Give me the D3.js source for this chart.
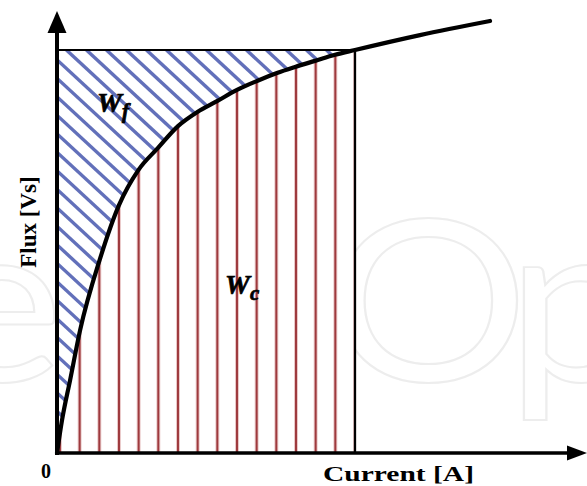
<!DOCTYPE html>
<html>
<head>
<meta charset="utf-8">
<script src="https://cdn.jsdelivr.net/npm/d3@7"></script>
<style>
  html, body { margin: 0; padding: 0; background: #fff; }
  svg { display: block; }
</style>
</head>
<body>
<svg id="chart" width="587" height="486"></svg>
<script>
// Magnetisation curve: flux linkage against current
const current = [0, 0.17, 0.44, 0.77, 1.44, 2.08, 2.73, 3.39, 4.06, 4.71, 5.37, 6.04, 6.71, 7.38, 7.99, 8.66, 9.33, 10, 12.18, 14.53];
const flux    = [0, 0.82, 1.81, 3.03, 4.81, 6.15, 7.02, 7.57, 8.11, 8.46, 8.73, 9.01, 9.23, 9.43, 9.58, 9.73, 9.88, 10, 10.37, 10.72];

// Operating point that bounds the energy / co-energy rectangle
const iOp = 10;
const psiOp = 10;

const axisLabels = { x: "Current [A]", y: "Flux [Vs]", origin: "0" };

const svg = d3.select("#chart");

const x = d3.scaleLinear().domain([0, 10]).range([57, 355]);
const y = d3.scaleLinear().domain([0, 10]).range([453, 50]);

const pts = current.map((c, i) => ({ c, f: flux[i] }));
const inside = pts.filter(p => p.c <= iOp);

const defs = svg.append("defs");
defs.append("filter").attr("id", "soft")
  .attr("x", "-10%").attr("y", "-10%").attr("width", "120%").attr("height", "120%")
  .append("feGaussianBlur").attr("stdDeviation", 0.75);

// Field energy: between the curve and the flux level of the operating point
const areaEnergy = d3.area().curve(d3.curveMonotoneX)
  .x(d => x(d.c)).y0(y(psiOp)).y1(d => y(d.f));
// Co-energy: between the curve and the current axis
const areaCo = d3.area().curve(d3.curveMonotoneX)
  .x(d => x(d.c)).y0(y(0)).y1(d => y(d.f));

defs.append("clipPath").attr("id", "clipWf").append("path").attr("d", areaEnergy(inside));
defs.append("clipPath").attr("id", "clipWc").append("path").attr("d", areaCo(inside));

// faint publisher watermark behind the plot
const wm = svg.append("g").attr("fill", "none").attr("stroke", "#ededed").attr("stroke-width", 2)
  .attr("font-family", "Lato, 'Open Sans', sans-serif").attr("font-size", 226);
wm.append("text").attr("transform", "translate(64,381) scale(1.11,1)").attr("text-anchor", "end").text("e");
wm.append("text").attr("transform", "translate(328,381) scale(1.11,1)")
  .attr("letter-spacing", -18).text("Open");

// plot field is opaque
svg.append("rect").attr("x", x(0)).attr("y", y(psiOp))
  .attr("width", x(iOp) - x(0)).attr("height", y(0) - y(psiOp)).attr("fill", "#fff");

// blue diagonal hatching for W_f
const slope = 0.925;
const gBlue = svg.append("g").attr("clip-path", "url(#clipWf)");
const hatchBlue = d3.range(-24, 16).map(k => 61 + 20 * k);
gBlue.selectAll("line").data(hatchBlue).join("line")
  .attr("x1", d => d).attr("y1", y(psiOp) - 5)
  .attr("x2", d => d + 460).attr("y2", y(psiOp) - 5 + 460 * slope)
  .attr("stroke", "#6270ba").attr("stroke-width", 3.4)
  .attr("filter", "url(#soft)");

// red vertical hatching for W_c
const gRed = svg.append("g").attr("clip-path", "url(#clipWc)");
const hatchRed = d3.range(0, 16).map(k => 0.1 + 0.66 * k);
gRed.selectAll("line.halo").data(hatchRed).join("line").attr("class", "halo")
  .attr("x1", d => x(d)).attr("x2", d => x(d)).attr("y1", y(11)).attr("y2", y(0))
  .attr("stroke", "#eacaca").attr("stroke-width", 4);
gRed.selectAll("line.core").data(hatchRed).join("line").attr("class", "core")
  .attr("x1", d => x(d)).attr("x2", d => x(d)).attr("y1", y(11)).attr("y2", y(0))
  .attr("stroke", "#9e3a3e").attr("stroke-width", 2);

// rectangle edges at the operating point
svg.append("line").attr("x1", x(0)).attr("x2", x(iOp)).attr("y1", y(psiOp)).attr("y2", y(psiOp))
  .attr("stroke", "#000").attr("stroke-width", 2.2);
svg.append("line").attr("x1", x(iOp)).attr("x2", x(iOp)).attr("y1", y(psiOp)).attr("y2", y(0))
  .attr("stroke", "#000").attr("stroke-width", 2.3);

// magnetisation curve
svg.append("path").datum(pts)
  .attr("d", d3.line().curve(d3.curveMonotoneX).x(d => x(d.c)).y(d => y(d.f)))
  .attr("fill", "none").attr("stroke", "#000").attr("stroke-width", 4.2)
  .attr("stroke-linecap", "round");

// axes with arrowheads
const ox = x(0), oy = y(0);
svg.append("line").attr("x1", ox).attr("x2", ox).attr("y1", oy + 2).attr("y2", 30)
  .attr("stroke", "#000").attr("stroke-width", 4);
svg.append("path").attr("d", `M${ox},11 L${ox + 9.5},33 L${ox - 9.5},33 Z`).attr("fill", "#000");
svg.append("line").attr("x1", ox - 2).attr("x2", 570).attr("y1", oy).attr("y2", oy)
  .attr("stroke", "#000").attr("stroke-width", 3.6);
svg.append("path").attr("d", `M587,${oy} L567,${oy - 7.5} L567,${oy + 7.5} Z`).attr("fill", "#000");

// labels
const serif = "'Liberation Serif', 'Times New Roman', Times, serif";
svg.append("text").attr("x", 46).attr("y", 478).attr("text-anchor", "middle")
  .attr("font-family", serif).attr("font-weight", "bold").attr("font-size", 20).text(axisLabels.origin);
svg.append("text").attr("x", 323).attr("y", 481)
  .attr("font-family", serif).attr("font-weight", "bold").attr("font-size", 22)
  .attr("textLength", 151).attr("lengthAdjust", "spacingAndGlyphs").text(axisLabels.x);
svg.append("text").attr("transform", "translate(36,222) rotate(-90)").attr("text-anchor", "middle")
  .attr("font-family", serif).attr("font-weight", "bold").attr("font-size", 23).text(axisLabels.y);

const wf = svg.append("text").attr("x", 97).attr("y", 112)
  .attr("font-family", serif).attr("font-weight", "bold").attr("font-style", "italic").attr("font-size", 28)
  .attr("stroke", "#000").attr("stroke-width", 0.7);
wf.append("tspan").text("W");
wf.append("tspan").attr("font-size", 21).attr("dy", 6).text("f");

const wc = svg.append("text").attr("x", 225).attr("y", 294)
  .attr("font-family", serif).attr("font-weight", "bold").attr("font-style", "italic").attr("font-size", 28)
  .attr("stroke", "#000").attr("stroke-width", 0.7);
wc.append("tspan").text("W");
wc.append("tspan").attr("font-size", 21).attr("dy", 6).text("c");
</script>
</body>
</html>
